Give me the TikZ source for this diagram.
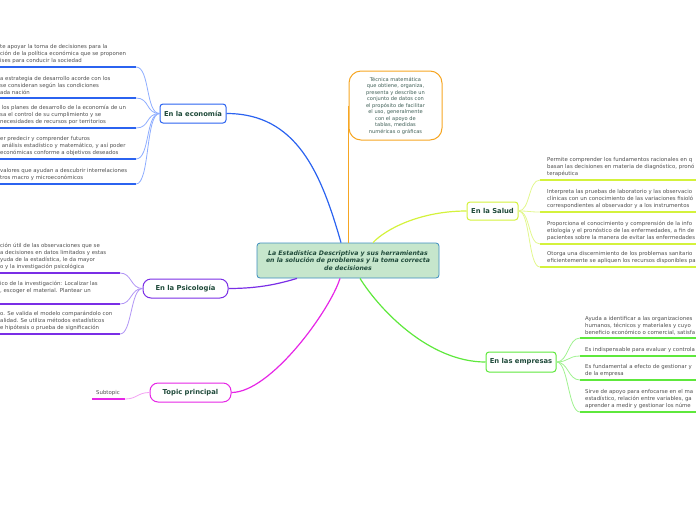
\documentclass[tikz,border=0pt]{standalone}
\usepackage{fontspec}
\setmainfont{DejaVu Sans}
\usetikzlibrary{calc}
\definecolor{ecoblue}{HTML}{2B63F0}
\definecolor{ecolight}{HTML}{8EADFF}
\definecolor{psipurple}{HTML}{7A2EE6}
\definecolor{psilight}{HTML}{B094F5}
\definecolor{topmag}{HTML}{E626E6}
\definecolor{toplight}{HTML}{F3A0F3}
\definecolor{salyellow}{HTML}{D4F23C}
\definecolor{sallight}{HTML}{E2F78E}
\definecolor{empgreen}{HTML}{5EE83C}
\definecolor{emplight}{HTML}{A0F290}
\definecolor{defoorange}{HTML}{F6A623}
\definecolor{centralfill}{HTML}{C6E6CC}
\definecolor{centralborder}{HTML}{3C8DBE}
\definecolor{titlegreen}{HTML}{1F4A3A}
\definecolor{txtgray}{HTML}{505050}
\definecolor{defotext}{HTML}{3E5E55}

\begin{document}
\begin{tikzpicture}[x=1pt, y=-1pt,
  font=\fontsize{5.4}{7}\selectfont,
  topic/.style={draw, line width=1pt, rounded corners=3pt, fill=white, minimum height=19pt, inner xsep=2pt, font=\fontsize{6.8}{8}\selectfont\bfseries, text=titlegreen},
  txt/.style={anchor=south west, inner sep=0pt, align=left, text=txtgray},
  uline/.style={line width=2pt},
  twig/.style={line width=0.8pt},
  link/.style={line width=1.2pt}
]
  \useasboundingbox (0,0) rectangle (696,520);

  % centre and definition
  \node[draw=centralborder, fill=centralfill, rounded corners=3pt, line width=0.8pt, minimum width=182pt, minimum height=35pt, align=center, font=\fontsize{6.2}{7.5}\selectfont\bfseries\itshape, text=titlegreen] (central) at (348,260.5) {La Estadística Descriptiva y sus herramientas\\en la solución de problemas y la toma correcta\\de decisiones};
  \node[draw=defoorange, line width=1pt, rounded corners=12pt, minimum width=93pt, minimum height=69pt, align=center, font=\fontsize{5.1}{6.5}\selectfont, text=defotext] (defo) at (395.5,105.5) {Técnica matemática\\que obtiene, organiza,\\presenta y describe un\\conjunto de datos con\\el propósito de facilitar\\el uso, generalmente\\con el apoyo de\\tablas, medidas\\numéricas o gráficas};
  \draw[link, defoorange] (defo.west) -- (defo.west |- central.north);

  % main topics
  \node[topic, draw=ecoblue, minimum width=66pt] (eco) at (193,113.5) {En la economía};
  \node[topic, draw=psipurple, rounded corners=8pt, minimum width=85pt] (psico) at (185.5,288.5) {En la Psicología};
  \node[topic, draw=topmag, rounded corners=8pt, minimum width=81pt] (topp) at (190.5,392.5) {Topic principal};
  \node[topic, draw=salyellow, minimum width=51pt, minimum height=18pt] (salud) at (492.5,211) {En la Salud};
  \node[topic, draw=empgreen, minimum width=70pt, minimum height=20pt] (emp) at (521,362) {En las empresas};

  \draw[link, ecoblue] (eco.east) .. controls +(70,0) and +(-20,-70) .. ([xshift=-7pt]central.north);
  \draw[link, salyellow] ([xshift=25pt]central.north) .. controls +(12,-13) and +(-47,0) .. (salud.west);
  \draw[link, psipurple] (psico.east) .. controls +(32,0) and +(-17,5) .. ([xshift=-51pt]central.south);
  \draw[link, topmag] ([xshift=-8pt]central.south) .. controls +(-10,32) and +(39,0) .. (topp.east);
  \draw[link, empgreen] ([xshift=12pt]central.south) .. controls +(20,32) and +(-56,0) .. (emp.west);

  % economia
  \node[txt] (et1) at (0,64) {te apoyar la toma de decisiones para la\\ción de la política económica que se proponen\\ises para conducir la sociedad};
  \node[txt] (et2) at (0,95) {a estrategia de desarrollo acorde con los\\se consideran según las condiciones\\ada nación};
  \node[txt] (et3) at (0,125) {\ los planes de desarrollo de la economía de un\\sa el control de su cumplimiento y se\\necesidades de recursos por territorios};
  \node[txt] (et4) at (0,156) {er predecir y comprender futuros\\\ análisis estadístico y matemático, y así poder\\económicas conforme a objetivos deseados};
  \node[txt] (et5) at (0,181) {valores que ayudan a descubrir interrelaciones\\tros macro y microeconómicos};
  \foreach \n/\y in {e1/67,e2/98,e3/128,e4/159,e5/184} {
    \coordinate (\n) at (136,\y);
    \draw[uline, ecoblue] (\n) -- (0,\y);
    \draw[twig, ecolight] (eco.west) .. controls +(-14,0) and +(14,0) .. (\n);
  }

  % psicologia
  \node[txt] (pt1) at (0,270) {ción útil de las observaciones que se\\a decisiones en datos limitados y estas\\yuda de la estadística, le da mayor\\o y la investigación psicológica};
  \node[txt] (pt2) at (0,294) {ico de la investigación: Localizar las\\, escoger el material. Plantear un};
  \node[txt] (pt3) at (0,331) {o. Se valida el modelo comparándolo con\\alidad. Se utiliza métodos estadísticos\\e hipótesis o prueba de significación};
  \foreach \n/\y in {p1/273,p2/304,p3/334} {
    \coordinate (\n) at (120,\y);
    \draw[uline, psipurple] (\n) -- (0,\y);
    \draw[twig, psilight] (psico.west) .. controls +(-12,0) and +(12,0) .. (\n);
  }

  % topic principal
  \node[txt] (subt) at (96,396) {Subtopic};
  \coordinate (t1) at (125,399);
  \draw[uline, topmag] (t1) -- (92,399);
  \draw[twig, toplight] (topp.west) .. controls +(-12,0) and +(12,0) .. (t1);

  % salud
  \node[txt] (st1) at (547,177) {Permite comprender los fundamentos racionales en q\\basan las decisiones en materia de diagnóstico, pronó\\terapéutica};
  \node[txt] (st2) at (547,208.5) {Interpreta las pruebas de laboratorio y las observacio\\clínicas con un conocimiento de las variaciones fisioló\\correspondientes al observador y a los instrumentos};
  \node[txt] (st3) at (547,240.5) {Proporciona el conocimiento y comprensión de la info\\etiología y el pronóstico de las enfermedades, a fin de\\pacientes sobre la manera de evitar las enfermedades};
  \node[txt] (st4) at (547,264) {Otorga una discernimiento de los problemas sanitario\\eficientemente se apliquen los recursos disponibles pa};
  \foreach \n/\y in {s1/180,s2/212,s3/244,s4/267} {
    \coordinate (\n) at (540,\y);
    \draw[uline, salyellow] (\n) -- (700,\y);
    \draw[twig, sallight] (salud.east) .. controls +(12,0) and +(-12,0) .. (\n);
  }

  % empresas
  \node[txt] (mt1) at (585,335) {Ayuda a identificar a las organizaciones\\humanos, técnicos y materiales y cuyo\\beneficio económico o comercial, satisfa};
  \node[txt] (mt2) at (585,353) {Es indispensable para evaluar y controla};
  \node[txt] (mt3) at (585,377) {Es fundamental a efecto de gestionar y\\de la empresa};
  \node[txt] (mt4) at (585,409) {Sirve de apoyo para enfocarse en el ma\\estadístico, relación entre variables, ga\\aprender a medir y gestionar los núme};
  \foreach \n/\y in {m1/338,m2/356,m3/380,m4/412} {
    \coordinate (\n) at (580,\y);
    \draw[uline, empgreen] (\n) -- (700,\y);
    \draw[twig, emplight] (emp.east) .. controls +(12,0) and +(-12,0) .. (\n);
  }
\end{tikzpicture}
\end{document}
